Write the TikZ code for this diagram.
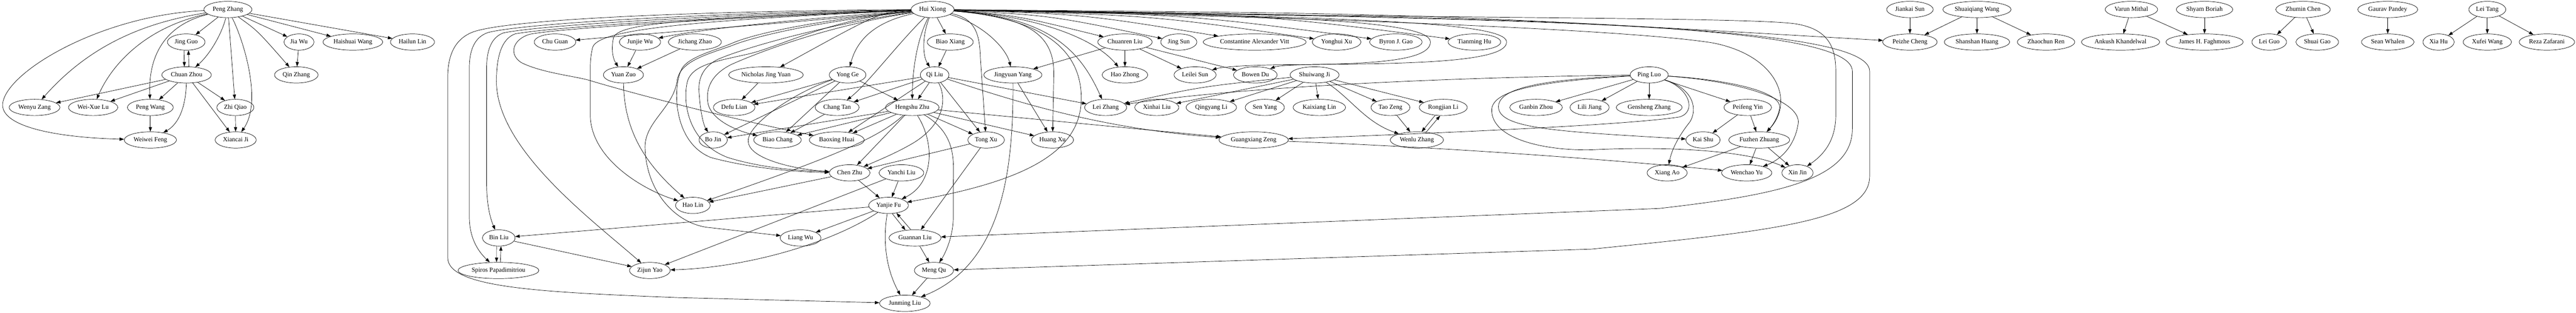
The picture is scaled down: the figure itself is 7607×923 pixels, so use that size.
\documentclass[tikz,border=0pt]{standalone}
\usepackage{fontspec}
\setmainfont{Liberation Serif}
\usetikzlibrary{shapes.geometric,arrows.meta}
\tikzset{
    author-node/.style = {draw, ellipse, line width=0.8pt, inner xsep=4pt, inner ysep=2pt, minimum height=36pt, minimum width=54pt, text height=9.5pt, text depth=3pt, font=\fontsize{14}{16}\selectfont},
    link-arrow/.style = {-{Triangle[length=10pt,width=7pt]}, line width=0.8pt},
}
\begin{document}
\begin{tikzpicture}[x=0.75pt,y=-0.75pt]
\useasboundingbox (0,0) rectangle (7607,923);

\node[author-node] (pz) at (673,28) {Peng Zhang};
\node[author-node] (hx) at (2754,28) {Hui Xiong};
\node[author-node] (js) at (5640,28) {Jiankai Sun};
\node[author-node] (sw) at (5838,28) {Shuaiqiang Wang};
\node[author-node] (vm) at (6294,28) {Varun Mithal};
\node[author-node] (sb) at (6510,28) {Shyam Boriah};
\node[author-node] (zc) at (6801,28) {Zhumin Chen};
\node[author-node] (gp) at (7051,28) {Gaurav Pandey};
\node[author-node] (lt) at (7345,28) {Lei Tang};

\node[author-node] (jg) at (550,124) {Jing Guo};
\node[author-node] (jw) at (883,124) {Jia Wu};
\node[author-node] (hw) at (1042,124) {Haishuai Wang};
\node[author-node] (hl) at (1218,124) {Hailun Lin};
\node[author-node] (cg) at (1639,124) {Chu Guan};
\node[author-node] (jjw) at (1890,124) {Junjie Wu};
\node[author-node] (jz) at (2052,124) {Jichang Zhao};
\node[author-node] (bx) at (2806,124) {Biao Xiang};
\node[author-node] (crl) at (3322,124) {Chuanren Liu};
\node[author-node] (jsn) at (3481,124) {Jing Sun};
\node[author-node] (cav) at (3705,124) {Constantine Alexander Vitt};
\node[author-node] (yhx) at (3947,124) {Yonghui Xu};
\node[author-node] (bjg) at (4122,124) {Byron J. Gao};
\node[author-node] (tmh) at (4354,124) {Tianming Hu};
\node[author-node] (pc) at (5640,124) {Peizhe Cheng};
\node[author-node] (sh) at (5838,124) {Shanshan Huang};
\node[author-node] (zr) at (6042,124) {Zhaochun Ren};
\node[author-node] (ak) at (6262,124) {Ankush Khandelwal};
\node[author-node] (jhf) at (6510,124) {James H. Faghmous};
\node[author-node] (lg) at (6701,124) {Lei Guo};
\node[author-node] (sg) at (6843,124) {Shuai Gao};
\node[author-node] (swh) at (7051,124) {Sean Whalen};
\node[author-node] (xh) at (7201,124) {Xia Hu};
\node[author-node] (xw) at (7345,124) {Xufei Wang};
\node[author-node] (rz) at (7521,124) {Reza Zafarani};

\node[author-node] (cz) at (551,221) {Chuan Zhou};
\node[author-node] (qz) at (875,221) {Qin Zhang};
\node[author-node] (yz) at (1841,221) {Yuan Zuo};
\node[author-node] (nj) at (2262,221) {Nicholas Jing Yuan};
\node[author-node] (yg) at (2503,221) {Yong Ge};
\node[author-node] (ql) at (2760,221) {Qi Liu};
\node[author-node] (jy) at (2991,221) {Jingyuan Yang};
\node[author-node] (hzg) at (3322,221) {Hao Zhong};
\node[author-node] (lls) at (3529,221) {Leilei Sun};
\node[author-node] (bwd) at (3707,221) {Bowen Du};
\node[author-node] (swj) at (3882,221) {Shuiwang Ji};
\node[author-node] (pl) at (4870,221) {Ping Luo};

\node[author-node] (wz) at (102,317) {Wenyu Zang};
\node[author-node] (wxl) at (275,317) {Wei-Xue Lu};
\node[author-node] (pw) at (444,317) {Peng Wang};
\node[author-node] (zq) at (695,317) {Zhi Qiao};
\node[author-node] (dl) at (2168,317) {Defu Lian};
\node[author-node] (ct) at (2472,317) {Chang Tan};
\node[author-node] (hz) at (2694,317) {Hengshu Zhu};
\node[author-node] (lz) at (3265,317) {Lei Zhang};
\node[author-node] (xhl) at (3416,317) {Xinhai Liu};
\node[author-node] (qyl) at (3577,317) {Qingyang Li};
\node[author-node] (sy) at (3735,317) {Sen Yang};
\node[author-node] (kxl) at (3896,317) {Kaixiang Lin};
\node[author-node] (tz) at (4106,317) {Tao Zeng};
\node[author-node] (rjl) at (4262,317) {Rongjian Li};
\node[author-node] (gbz) at (4536,317) {Ganbin Zhou};
\node[author-node] (llj) at (4694,317) {Lili Jiang};
\node[author-node] (gsz) at (4870,317) {Gensheng Zhang};
\node[author-node] (pfy) at (5161,317) {Peifeng Yin};

\node[author-node] (wf) at (444,413) {Weiwei Feng};
\node[author-node] (xj) at (696,413) {Xiancai Ji};
\node[author-node] (bj) at (2106,413) {Bo Jin};
\node[author-node] (bc) at (2296,413) {Biao Chang};
\node[author-node] (bxh) at (2471,413) {Baoxing Huai};
\node[author-node] (tx) at (2912,413) {Tong Xu};
\node[author-node] (hux) at (3108,413) {Huang Xu};
\node[author-node] (gxz) at (3702,413) {Guangxiang Zeng};
\node[author-node] (wlz) at (4184,413) {Wenlu Zhang};
\node[author-node] (ks) at (5029,413) {Kai Shu};
\node[author-node] (fzz) at (5195,413) {Fuzhen Zhuang};

\node[author-node] (cnz) at (2509,510) {Chen Zhu};
\node[author-node] (ycl) at (2662,510) {Yanchi Liu};
\node[author-node] (xa) at (4923,510) {Xiang Ao};
\node[author-node] (wcy) at (5158,510) {Wenchao Yu};
\node[author-node] (xjn) at (5308,510) {Xin Jin};

\node[author-node] (hln) at (2046,606) {Hao Lin};
\node[author-node] (yf) at (2624,606) {Yanjie Fu};
\node[author-node] (bl) at (1473,702) {Bin Liu};
\node[author-node] (lw) at (2364,702) {Liang Wu};
\node[author-node] (gnl) at (2702,702) {Guannan Liu};
\node[author-node] (spp) at (1472,798) {Spiros Papadimitriou};
\node[author-node] (zy) at (1919,798) {Zijun Yao};
\node[author-node] (mq) at (2758,798) {Meng Qu};
\node[author-node] (jml) at (2672,895) {Junming Liu};

\draw[link-arrow] (pz) -- (jg);
\draw[link-arrow] (pz) .. controls (655,100) and (620,160) .. (cz);
\draw[link-arrow] (pz) .. controls (400,70) and (250,150) .. (wz);
\draw[link-arrow] (pz) .. controls (430,80) and (330,190) .. (wxl);
\draw[link-arrow] (pz) .. controls (500,70) and (437,150) .. (pw);
\draw[link-arrow] (pz) .. controls (300,45) and (20,210) .. (8,305) .. controls (0,370) and (150,405) .. (wf);
\draw[link-arrow] (pz) -- (zq);
\draw[link-arrow] (pz) .. controls (720,120) and (775,300) .. (xj);
\draw[link-arrow] (pz) -- (jw);
\draw[link-arrow] (pz) .. controls (760,90) .. (qz);
\draw[link-arrow] (pz) -- (hw);
\draw[link-arrow] (pz) -- (hl);
\draw[link-arrow] (jg.-105) -- (cz.105);
\draw[link-arrow] (cz.75) -- (jg.-75);
\draw[link-arrow] (cz) -- (wz);
\draw[link-arrow] (cz) -- (wxl);
\draw[link-arrow] (cz) -- (pw);
\draw[link-arrow] (cz) .. controls (548,330) and (520,370) .. (wf);
\draw[link-arrow] (cz) -- (zq);
\draw[link-arrow] (cz) -- (xj);
\draw[link-arrow] (pw) -- (wf);
\draw[link-arrow] (zq) -- (xj);
\draw[link-arrow] (jw) -- (qz);

\draw[link-arrow] (hx) .. controls (2100,32) and (1500,55) .. (1395,95) .. controls (1345,115) and (1322,160) .. (1322,230) -- (1322,760) .. controls (1322,850) and (1600,862) .. (2000,878) -- (jml);
\draw[link-arrow] (hx) .. controls (2100,38) and (1550,68) .. (1441,96) .. controls (1400,110) and (1386,150) .. (1386,200) -- (1386,640) .. controls (1386,700) and (1410,740) .. (spp);
\draw[link-arrow] (hx) .. controls (2100,44) and (1600,74) .. (1487,97) .. controls (1450,110) and (1437,150) .. (1437,200) -- (1437,540) .. controls (1437,610) and (1450,650) .. (bl);
\draw[link-arrow] (hx) .. controls (2100,50) and (1630,80) .. (1521,100) .. controls (1480,115) and (1466,170) .. (1466,240) .. controls (1466,440) and (1750,650) .. (zy);
\draw[link-arrow] (hx) .. controls (2100,55) and (1650,84) .. (1565,101) .. controls (1515,115) and (1500,160) .. (1540,185) .. controls (1600,215) and (1700,225) .. (1740,237) .. controls (1900,285) and (2200,360) .. (bxh);
\draw[link-arrow] (hx) .. controls (2300,70) and (1900,100) .. (cg);
\draw[link-arrow] (hx) .. controls (2000,55) and (1830,70) .. (1812,110) .. controls (1805,140) and (1808,170) .. (yz);
\draw[link-arrow] (hx) .. controls (2000,62) and (1765,90) .. (1750,140) .. controls (1743,170) and (1743,190) .. (1743,210) -- (1743,340) .. controls (1745,470) and (1900,560) .. (hln);
\draw[link-arrow] (hx) .. controls (2300,60) and (2050,90) .. (jjw);
\draw[link-arrow] (hx) .. controls (2400,65) and (2220,110) .. (2160,135) .. controls (2090,160) and (2010,180) .. (2000,235) .. controls (1990,320) and (1900,360) .. (1905,440) .. controls (1910,570) and (2000,665) .. (2100,672) -- (lw);
\draw[link-arrow] (hx) .. controls (2400,60) and (2230,100) .. (2168,125) .. controls (2110,150) and (2040,165) .. (2015,200) .. controls (1985,250) and (1985,420) .. (2100,465) .. controls (2250,505) and (2400,508) .. (cnz);
\draw[link-arrow] (hx) .. controls (2450,55) and (2300,140) .. (2207,160) .. controls (2120,180) and (2045,190) .. (2030,240) .. controls (2015,300) and (2030,420) .. (2150,465) .. controls (2280,505) and (2420,505) .. (cnz);
\draw[link-arrow] (hx) .. controls (2600,35) .. (nj);
\draw[link-arrow] (hx) .. controls (2580,65) and (2530,120) .. (yg);
\draw[link-arrow] (hx) .. controls (2650,130) and (2560,250) .. (ct);
\draw[link-arrow] (hx) .. controls (2450,70) and (2200,140) .. (2120,175) .. controls (2070,200) and (2060,240) .. (2065,280) .. controls (2068,330) and (2078,370) .. (bj);
\draw[link-arrow] (hx) .. controls (2450,75) and (2250,150) .. (2160,190) .. controls (2100,220) and (2085,260) .. (2090,300) .. controls (2095,350) and (2170,385) .. (bc);
\draw[link-arrow] (hx) -- (bx);
\draw[link-arrow] (hx) .. controls (2725,100) and (2722,160) .. (ql);
\draw[link-arrow] (hx) .. controls (2705,120) and (2694,220) .. (hz);
\draw[link-arrow] (hx) .. controls (2880,55) and (2893,100) .. (2895,170) -- (tx);
\draw[link-arrow] (hx) .. controls (2900,70) and (2970,140) .. (jy);
\draw[link-arrow] (hx) .. controls (3050,50) and (3113,110) .. (3112,220) -- (hux);
\draw[link-arrow] (hx) .. controls (3100,55) and (3193,160) .. (3193,290) .. controls (3193,460) and (3000,540) .. (yf);
\draw[link-arrow] (hx) .. controls (3000,45) .. (crl);
\draw[link-arrow] (hx) .. controls (3050,45) and (3230,110) .. (hzg);
\draw[link-arrow] (hx) .. controls (3100,50) and (3190,150) .. (lz);
\draw[link-arrow] (hx) .. controls (3100,45) .. (jsn);
\draw[link-arrow] (hx) .. controls (3200,42) .. (cav);
\draw[link-arrow] (hx) .. controls (3400,45) .. (yhx);
\draw[link-arrow] (hx) .. controls (3500,42) .. (bjg);
\draw[link-arrow] (hx) .. controls (3700,40) .. (tmh);
\draw[link-arrow] (hx) .. controls (3800,45) and (4224,60) .. (4224,124) .. controls (4224,180) and (4050,190) .. (3800,191) .. controls (3650,192) and (3600,200) .. (lls);
\draw[link-arrow] (hx) .. controls (4000,50) and (4449,65) .. (4449,124) .. controls (4449,180) and (4200,188) .. (3900,190) .. controls (3800,191) and (3770,195) .. (bwd);
\draw[link-arrow] (hx) .. controls (4200,40) .. (pc);
\draw[link-arrow] (hx) .. controls (4200,55) and (5150,50) .. (5300,70) .. controls (5400,85) and (5421,140) .. (5421,210) -- (5421,340) .. controls (5421,420) and (5380,460) .. (xjn);
\draw[link-arrow] (hx) .. controls (4500,50) and (5470,70) .. (5470,210) -- (5470,380) .. controls (5470,530) and (5250,575) .. (4900,615) -- (gnl);
\draw[link-arrow] (hx) .. controls (4500,55) and (5521,70) .. (5521,210) -- (5521,520) .. controls (5521,650) and (5250,680) .. (4700,735) -- (mq);
\draw[link-arrow] (hx) .. controls (4300,60) and (4900,100) .. (5060,127) .. controls (5250,165) and (5300,300) .. (fzz);

\draw[link-arrow] (jjw) -- (yz);
\draw[link-arrow] (jz) -- (yz);
\draw[link-arrow] (yz) .. controls (1843,380) and (1900,480) .. (hln);
\draw[link-arrow] (nj) -- (dl);
\draw[link-arrow] (yg) -- (dl);
\draw[link-arrow] (yg) -- (bj);
\draw[link-arrow] (yg) -- (bc);
\draw[link-arrow] (yg) -- (hz);
\draw[link-arrow] (yg) .. controls (2350,270) and (2200,370) .. (2210,420) .. controls (2215,470) and (2350,500) .. (cnz);
\draw[link-arrow] (bx) -- (ql);
\draw[link-arrow] (ql) -- (dl);
\draw[link-arrow] (ql) -- (ct);
\draw[link-arrow] (ql) -- (bxh);
\draw[link-arrow] (ql) -- (hz);
\draw[link-arrow] (ql) -- (tx);
\draw[link-arrow] (ql) .. controls (2800,300) and (2780,370) .. (2700,420) .. controls (2650,450) and (2600,470) .. (cnz);
\draw[link-arrow] (ql) -- (lz);
\draw[link-arrow] (ql) .. controls (3000,300) and (3250,380) .. (gxz);
\draw[link-arrow] (ct) -- (bc);
\draw[link-arrow] (hz) -- (bj);
\draw[link-arrow] (hz) -- (bc);
\draw[link-arrow] (hz) -- (bxh);
\draw[link-arrow] (hz) .. controls (2600,400) and (2500,450) .. (hln);
\draw[link-arrow] (hz) -- (cnz);
\draw[link-arrow] (hz) -- (tx);
\draw[link-arrow] (hz) -- (hux);
\draw[link-arrow] (hz) -- (gxz);
\draw[link-arrow] (hz) .. controls (2760,420) and (2760,540) .. (yf);
\draw[link-arrow] (hz) .. controls (2830,400) and (2815,480) .. (2815,560) -- (2815,640) .. controls (2815,700) and (2790,750) .. (mq);
\draw[link-arrow] (tx) -- (cnz);
\draw[link-arrow] (tx) -- (gnl);
\draw[link-arrow] (jy) -- (hux);
\draw[link-arrow] (jy) .. controls (2993,500) and (2960,780) .. (jml);
\draw[link-arrow] (crl) -- (jy);
\draw[link-arrow] (crl) -- (hzg);
\draw[link-arrow] (crl) -- (lls);
\draw[link-arrow] (crl) -- (bwd);
\draw[link-arrow] (cnz) -- (hln);
\draw[link-arrow] (cnz) -- (yf);
\draw[link-arrow] (ycl) -- (yf);
\draw[link-arrow] (ycl) -- (zy);
\draw[link-arrow] (yf.-66) -- (gnl.141);
\draw[link-arrow] (gnl.117) -- (yf.-44);
\draw[link-arrow] (yf) .. controls (2605,720) and (2620,800) .. (jml);
\draw[link-arrow] (yf) -- (lw);
\draw[link-arrow] (yf) -- (bl);
\draw[link-arrow] (yf) .. controls (2450,720) and (2200,790) .. (zy);
\draw[link-arrow] (gnl) -- (mq);
\draw[link-arrow] (mq) -- (jml);
\draw[link-arrow] (bl.-105) -- (spp.103);
\draw[link-arrow] (spp.77) -- (bl.-75);
\draw[link-arrow] (bl) -- (zy);

\draw[link-arrow] (swj) .. controls (3550,255) .. (lz);
\draw[link-arrow] (swj) -- (xhl);
\draw[link-arrow] (swj) -- (qyl);
\draw[link-arrow] (swj) -- (sy);
\draw[link-arrow] (swj) -- (kxl);
\draw[link-arrow] (swj) -- (tz);
\draw[link-arrow] (swj) -- (rjl);
\draw[link-arrow] (swj) .. controls (3990,290) and (4030,360) .. (wlz);
\draw[link-arrow] (tz) -- (wlz);
\draw[link-arrow] (rjl.-136) -- (wlz.60);
\draw[link-arrow] (wlz.40) -- (rjl.-111);

\draw[link-arrow] (pl) .. controls (4400,226) and (3700,250) .. (lz);
\draw[link-arrow] (pl) -- (gbz);
\draw[link-arrow] (pl) -- (llj);
\draw[link-arrow] (pl) -- (gsz);
\draw[link-arrow] (pl) .. controls (4550,235) and (4425,260) .. (4425,315) .. controls (4425,380) and (4600,388) .. (ks);
\draw[link-arrow] (pl) .. controls (4550,240) and (4405,265) .. (4405,325) .. controls (4405,410) and (4560,445) .. (4700,442) .. controls (4900,432) and (5150,440) .. (xjn);
\draw[link-arrow] (pl) .. controls (4990,260) and (5010,330) .. (4960,345) .. controls (4800,370) and (4200,395) .. (gxz);
\draw[link-arrow] (pl) .. controls (5010,265) and (5010,330) .. (4990,360) .. controls (4950,410) and (4935,450) .. (xa);
\draw[link-arrow] (pl) -- (pfy);
\draw[link-arrow] (pl) .. controls (5100,235) and (5265,270) .. (5255,320) .. controls (5250,350) and (5230,375) .. (fzz);
\draw[link-arrow] (pl) .. controls (5150,240) and (5320,300) .. (5310,365) .. controls (5300,430) and (5260,470) .. (wcy);
\draw[link-arrow] (gxz) .. controls (4400,440) and (4900,485) .. (wcy);
\draw[link-arrow] (pfy) -- (fzz);
\draw[link-arrow] (pfy) -- (ks);
\draw[link-arrow] (fzz) -- (wcy);
\draw[link-arrow] (fzz) -- (xjn);
\draw[link-arrow] (fzz) -- (xa);

\draw[link-arrow] (js) -- (pc);
\draw[link-arrow] (sw) -- (pc);
\draw[link-arrow] (sw) -- (sh);
\draw[link-arrow] (sw) -- (zr);
\draw[link-arrow] (vm) -- (ak);
\draw[link-arrow] (vm) -- (jhf);
\draw[link-arrow] (sb) -- (jhf);
\draw[link-arrow] (zc) -- (lg);
\draw[link-arrow] (zc) -- (sg);
\draw[link-arrow] (gp) -- (swh);
\draw[link-arrow] (lt) -- (xh);
\draw[link-arrow] (lt) -- (xw);
\draw[link-arrow] (lt) -- (rz);
\end{tikzpicture}
\end{document}
